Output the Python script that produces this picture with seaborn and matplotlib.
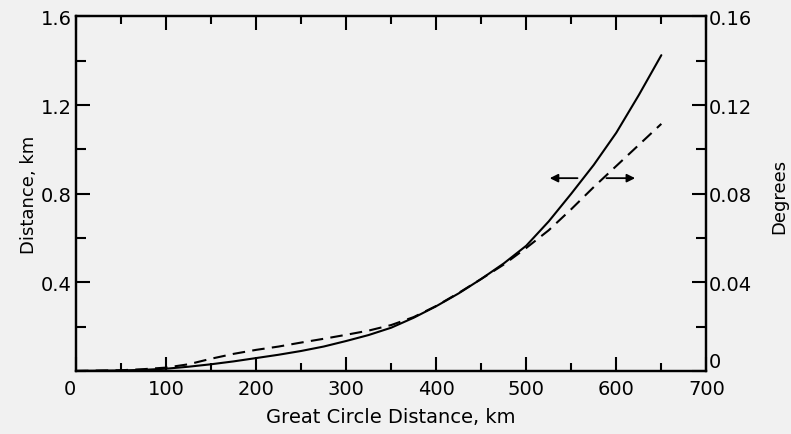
import numpy as np
import pandas as pd
import matplotlib
matplotlib.use("Agg")
import matplotlib.pyplot as plt
import seaborn as sns
from matplotlib.ticker import MultipleLocator

# ---- data ----
great_circle_km = [0, 50, 75, 100, 125, 150, 175, 200, 225, 250, 275, 300, 325, 350,
                   375, 400, 425, 450, 475, 500, 525, 550, 575, 600, 625, 650]
distance_km = [0.0, 0.002, 0.005, 0.010, 0.019, 0.030, 0.043, 0.058, 0.073, 0.090, 0.110,
               0.135, 0.162, 0.195, 0.240, 0.292, 0.350, 0.415, 0.485, 0.565, 0.675,
               0.800, 0.930, 1.075, 1.245, 1.425]
degrees = [0.0, 0.0003, 0.0008, 0.0015, 0.0030, 0.0055, 0.0077, 0.0095, 0.0110, 0.0128,
           0.0145, 0.0163, 0.0182, 0.0207, 0.0243, 0.0293, 0.0352, 0.0415, 0.0480,
           0.0555, 0.0635, 0.0730, 0.0830, 0.0925, 0.1020, 0.1115]

x_ticks = [0, 100, 200, 300, 400, 500, 600, 700]
x_tick_labels = ["0", "100", "200", "300", "400", "500", "600", "700"]
left_ticks = [0.4, 0.8, 1.2, 1.6]
left_tick_labels = ["0.4", "0.8", "1.2", "1.6"]
right_ticks = [0, 0.04, 0.08, 0.12, 0.16]
right_tick_labels = ["0", "0.04", "0.08", "0.12", "0.16"]

# arrows (annotation): pointing left to km axis, right to degrees axis
arrow_y = 0.87
arrow_left = (560, 523)
arrow_right = (586, 624)

x_label = "Great Circle Distance, km"
left_label = "Distance, km"
right_label = "Degrees"

df = pd.DataFrame({"gc": great_circle_km, "km": distance_km, "deg": degrees})

sns.set_style("ticks")
plt.rcParams["font.family"] = ["DejaVu Sans"]
for k in ("text.color", "axes.labelcolor", "xtick.color", "ytick.color", "axes.edgecolor"):
    plt.rcParams[k] = "black"
bg = "#f1f1f1"

fig = plt.figure(figsize=(7.91, 4.35), dpi=100, facecolor=bg)
ax = fig.add_axes([0.096, 0.145, 0.797, 0.815])
ax.set_facecolor(bg)
ax2 = ax.twinx()

sns.lineplot(data=df, x="gc", y="km", ax=ax, color="black", linewidth=1.5)
sns.lineplot(data=df, x="gc", y="deg", ax=ax2, color="black", linewidth=1.5)
ax2.lines[0].set_dashes([6, 3.5])

ax.set_xlim(0, 700)
ax.set_ylim(0, 1.6)
ax2.set_ylim(0, 0.16)

ax.set_xticks(x_ticks)
ax.set_xticklabels(x_tick_labels)
ax.xaxis.set_minor_locator(MultipleLocator(50))
ax.set_yticks(left_ticks)
ax.set_yticklabels(left_tick_labels)
ax.yaxis.set_minor_locator(MultipleLocator(0.2))
ax2.set_yticks(right_ticks)
ax2.set_yticklabels(right_tick_labels)
ax2.yaxis.set_minor_locator(MultipleLocator(0.02))

for a in (ax, ax2):
    for s in a.spines.values():
        s.set_visible(True)
        s.set_linewidth(1.6)
        s.set_color("black")

ax.tick_params(axis="x", which="major", direction="in", length=10, width=1.5,
               top=True, labelsize=14, pad=6)
ax.tick_params(axis="x", which="minor", direction="in", length=6, width=1.5, top=True)
ax.tick_params(axis="y", which="major", direction="in", length=10, width=1.5,
               labelsize=14, pad=3)
ax.tick_params(axis="y", which="minor", direction="in", length=7, width=1.5)
ax2.tick_params(axis="y", which="major", direction="in", length=10, width=1.5,
                labelsize=14, pad=2)
ax2.tick_params(axis="y", which="minor", direction="in", length=7, width=1.5)

ax.get_xticklabels()[0].set_ha("right")
ax2.get_yticklabels()[0].set_va("bottom")

ax.set_xlabel(x_label, fontsize=14, labelpad=6)
ax.set_ylabel(left_label, fontsize=13, labelpad=2)
ax2.set_ylabel("")
fig.text(0.985, 0.548, right_label, fontsize=13, rotation=90, ha="center", va="center")

arrowprops = dict(arrowstyle="-|>", color="black", lw=1.3, mutation_scale=12)
ax.annotate("", xy=(arrow_left[1], arrow_y), xytext=(arrow_left[0], arrow_y), arrowprops=arrowprops)
ax.annotate("", xy=(arrow_right[1], arrow_y), xytext=(arrow_right[0], arrow_y), arrowprops=arrowprops)

fig.savefig("out.png", dpi=100, facecolor=bg)
